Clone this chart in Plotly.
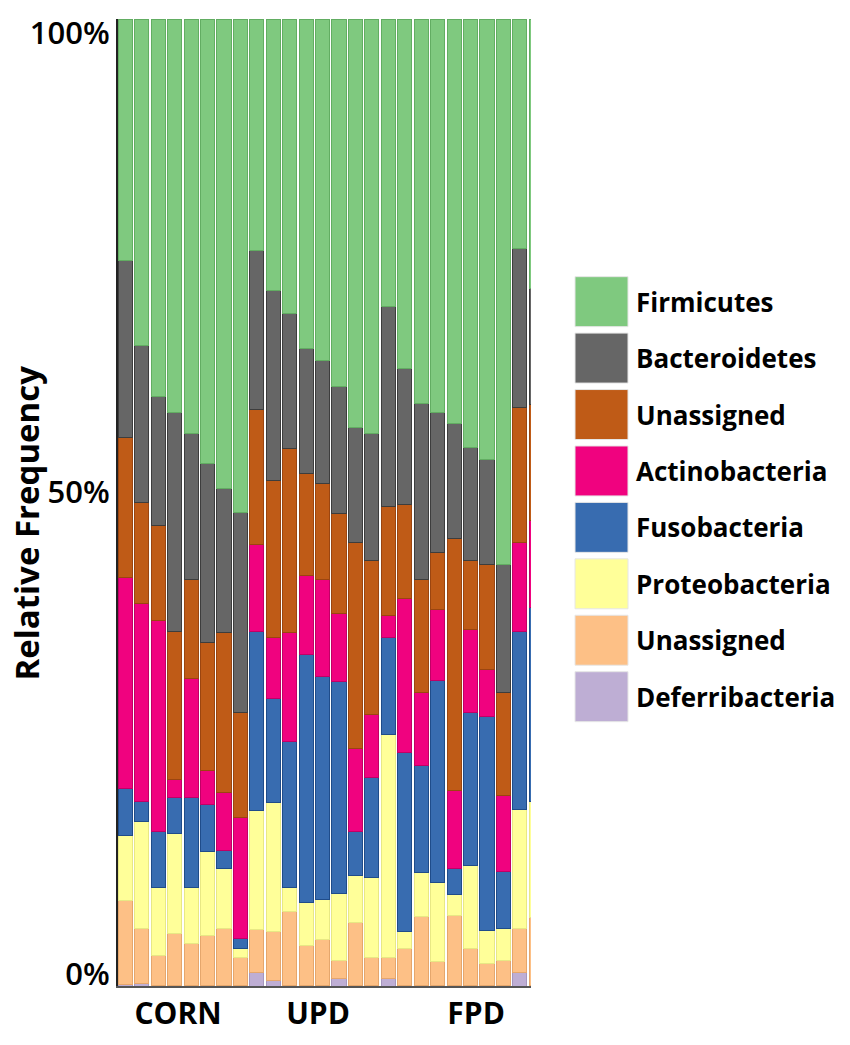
import plotly.graph_objects as go

# ---------------- data (fractions of each sample) ----------------
samples = list(range(26))  # 8 CORN, 8 UPD, 9+ FPD (last one clipped at plot edge)
group_labels = ["CORN", "UPD", "FPD"]

firmicutes = [0.250, 0.338, 0.390, 0.407, 0.429, 0.460, 0.485, 0.510,
              0.239, 0.281, 0.305, 0.341, 0.353, 0.380, 0.422, 0.429,
              0.297, 0.361, 0.398, 0.407, 0.418, 0.443, 0.456, 0.564, 0.237, 0.279]
bacteroidetes = [0.183, 0.162, 0.134, 0.226, 0.151, 0.185, 0.149, 0.207,
                 0.165, 0.196, 0.139, 0.129, 0.127, 0.131, 0.119, 0.131,
                 0.207, 0.141, 0.182, 0.145, 0.119, 0.117, 0.108, 0.132, 0.165, 0.120]
unassigned1 = [0.145, 0.104, 0.098, 0.153, 0.102, 0.132, 0.166, 0.109,
               0.139, 0.163, 0.190, 0.106, 0.100, 0.104, 0.213, 0.159,
               0.113, 0.097, 0.116, 0.059, 0.261, 0.071, 0.109, 0.107, 0.139, 0.120]
actinobacteria = [0.218, 0.205, 0.218, 0.019, 0.123, 0.035, 0.060, 0.125,
                  0.090, 0.063, 0.113, 0.081, 0.100, 0.070, 0.086, 0.065,
                  0.023, 0.160, 0.076, 0.073, 0.081, 0.086, 0.048, 0.079, 0.092, 0.090]
fusobacteria = [0.048, 0.021, 0.058, 0.037, 0.093, 0.049, 0.019, 0.010,
                0.186, 0.107, 0.151, 0.257, 0.231, 0.219, 0.046, 0.104,
                0.100, 0.185, 0.111, 0.209, 0.026, 0.158, 0.222, 0.059, 0.184, 0.200]
proteobacteria = [0.068, 0.111, 0.070, 0.104, 0.058, 0.087, 0.062, 0.010,
                  0.123, 0.134, 0.025, 0.044, 0.041, 0.070, 0.048, 0.083,
                  0.231, 0.017, 0.045, 0.082, 0.022, 0.086, 0.034, 0.033, 0.124, 0.120]
unassigned2 = [0.086, 0.056, 0.031, 0.053, 0.043, 0.051, 0.058, 0.028,
               0.044, 0.050, 0.076, 0.041, 0.047, 0.018, 0.065, 0.028,
               0.021, 0.038, 0.071, 0.024, 0.072, 0.038, 0.022, 0.025, 0.045, 0.070]
deferribacteria = [0.002, 0.003, 0.001, 0.001, 0.001, 0.001, 0.001, 0.001,
                   0.014, 0.006, 0.001, 0.001, 0.001, 0.008, 0.001, 0.001,
                   0.008, 0.001, 0.001, 0.001, 0.001, 0.001, 0.001, 0.001, 0.014, 0.001]

y_tick_labels = ["0%", "50%", "100%"]

# ---------------- styling ----------------
W, H = 850, 1045
# plot area in page pixels
L, R_EDGE, T, B_EDGE = 118, 531, 13, 1000
PW, PH = R_EDGE - L, B_EDGE - T

FONT = "Open Sans"

# stacking order bottom -> top
series = [
    ("Deferribacteria", deferribacteria, "#beaed4", "#a596bd"),
    ("Unassigned", unassigned2, "#fdc086", "#e5a66c"),
    ("Proteobacteria", proteobacteria, "#ffff99", "#e8e884"),
    ("Fusobacteria", fusobacteria, "#386cb0", "#1f4c8a"),
    ("Actinobacteria", actinobacteria, "#f0027f", "#c10065"),
    ("Unassigned", unassigned1, "#bf5b17", "#9b4510"),
    ("Bacteroidetes", bacteroidetes, "#666666", "#3d3d3d"),
    ("Firmicutes", firmicutes, "#7fc97f", "#62ad62"),
]

fig = go.Figure()
for name, vals, col, edge in series:
    fig.add_trace(go.Bar(
        x=samples, y=vals, name=name,
        marker=dict(color=col, line=dict(color=edge, width=1)),
        showlegend=False,
    ))

def px_x(p):
    return (p - L) / PW

def px_y(p):
    return (B_EDGE - p) / PH

shapes = []
annotations = []
# custom legend: big swatches, top -> bottom = Firmicutes ... Deferribacteria
legend_items = list(reversed(series))
sq_x0, sq_x1 = 575, 628
top0, pitch, sq_h = 276, 57.6, 51
for i, (name, vals, col, edge) in enumerate(legend_items):
    y0 = top0 + i * pitch
    y1 = y0 + sq_h
    shapes.append(dict(type="rect", xref="paper", yref="paper",
                       x0=px_x(sq_x0), x1=px_x(sq_x1), y0=px_y(y1), y1=px_y(y0),
                       fillcolor=col, line=dict(color="#e6e6e6", width=1)))
    annotations.append(dict(xref="paper", yref="paper", x=px_x(634), y=px_y((y0 + y1) / 2),
                            xanchor="left", yanchor="middle", showarrow=False,
                            text=name, font=dict(family=FONT, size=26, color="black", weight="bold")))

# y-axis title
annotations.append(dict(xref="paper", yref="paper", x=px_x(27), y=px_y(528),
                        xanchor="center", yanchor="middle", showarrow=False, textangle=-90,
                        text="Relative Frequency",
                        font=dict(family=FONT, size=33, color="black", weight="bold")))

fig.update_layout(
    width=W, height=H,
    margin=dict(l=L, r=W - R_EDGE, t=T, b=H - B_EDGE, pad=0),
    barmode="stack", bargap=0.14,
    plot_bgcolor="white", paper_bgcolor="white",
    shapes=shapes, annotations=annotations,
    font=dict(family=FONT, color="black"),
)
fig.update_xaxes(
    range=[-0.45, 24.68], showgrid=False, zeroline=False,
    showline=True, linecolor="#555555", linewidth=2,
    tickmode="array", tickvals=[3.2, 11.72, 21.34], ticktext=group_labels,
    ticks="", ticklabeloverflow="allow",
    tickfont=dict(family=FONT, size=30, color="black", weight="bold"),
)
fig.update_yaxes(
    range=[0, 1], showgrid=False, zeroline=False,
    showline=True, linecolor="#222222", linewidth=2,
    tickmode="array", tickvals=[0.012, 0.511, 0.985], ticktext=y_tick_labels,
    ticks="", ticklabelstandoff=0, ticklabeloverflow="allow",
    tickfont=dict(family=FONT, size=31, color="black", weight=600),
)

fig.write_html(
    "out.html",
    config={"displayModeBar": False},
    post_script="document.body.style.margin='0';document.body.style.overflow='hidden';",
)
